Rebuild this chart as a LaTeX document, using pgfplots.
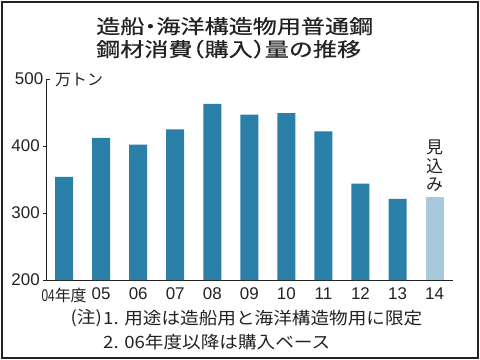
\documentclass[border=0pt]{standalone}
\usepackage{pgfplots}
\pgfplotsset{compat=1.18}
\usepackage{fontspec}
\setmainfont{Liberation Sans}
\newfontfamily\jp{Noto Sans CJK JP}[FakeStretch=1.1]
\newfontfamily\jpt{Noto Sans CJK JP}[FakeStretch=1.24, FakeBold=0.5, CharacterWidth=AlternateHalf]
\newfontfamily\jpn{Noto Sans CJK JP}
\definecolor{barblue}{HTML}{2A80A8}
\definecolor{barlight}{HTML}{A7C9DA}
\definecolor{txt}{HTML}{222222}
\begin{document}
\begin{tikzpicture}
\path[use as bounding box] (0,0) rectangle (480bp,-360bp);
\draw[line width=2bp, txt] (2bp,-2bp) rectangle (478bp,-358bp);
\node[anchor=north west, align=left, inner sep=0pt, text=txt, font=\jpt\fontsize{19.5}{23}\selectfont] at (96bp,-17bp) {造船・海洋構造物用普通鋼\\鋼材消費（購入）量の推移};
\begin{axis}[
  at={(46.7bp,-280bp)}, anchor=south west,
  scale only axis, width=406bp, height=201bp,
  xmin=-0.47, xmax=10.49, ymin=200, ymax=500,
  axis x line*=bottom, axis y line*=left,
  axis line style={txt, line width=0.9bp},
  xtick={0,1,2,3,4,5,6,7,8,9,10},
  xticklabels={{\scalebox{0.7}[1]{04}{\jpn\fontsize{16}{16}\selectfont 年度}},05,06,07,08,09,10,11,12,13,14},
  ytick={200,300,400},
  extra y ticks={500},
  extra tick style={tick align=inside},
  xtick style={draw=none},
  ytick style={txt, line width=0.8bp},
  tick align=outside, major tick length=3.5bp,
  /pgf/number format/assume math mode=true,
  tick label style={font=\fontsize{17}{17}\selectfont, text=txt},
  xticklabel style={yshift=-1bp},
]
\addplot[ybar, bar width=18bp, bar shift=0pt, fill=barblue, draw=none] coordinates {
  (0,354) (1,412) (2,402) (3,425) (4,463) (5,447) (6,449) (7,422) (8,344) (9,321)};
\addplot[ybar, bar width=18bp, bar shift=0pt, fill=barlight, draw=none] coordinates {(10,324)};
\node[anchor=south, align=center, inner sep=0pt, text=txt, font=\jpn\fontsize{17}{18.5}\selectfont, yshift=5bp] at (axis cs:10,324) {見\\込\\み};
\end{axis}
\node[anchor=west, inner sep=0pt, text=txt, font=\jpn\fontsize{16}{17}\selectfont] at (55bp,-80bp) {万トン};
\node[anchor=east, inner sep=0pt, text=txt, font=\jp\fontsize{17}{17}\selectfont] at (102bp,-318bp) {(注)};
\node[anchor=west, inner sep=0pt, text=txt, font=\jp\fontsize{17}{17}\selectfont] at (103bp,-318bp) {1. 用途は造船用と海洋構造物用に限定};
\node[anchor=west, inner sep=0pt, text=txt, font=\jp\fontsize{17}{17}\selectfont] at (103bp,-342bp) {2. 06年度以降は購入ベース};
\end{tikzpicture}
\end{document}
